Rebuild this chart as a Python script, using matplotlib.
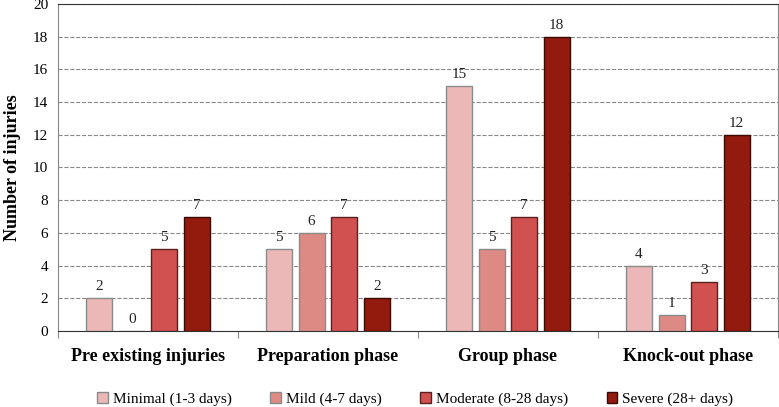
import numpy as np
import matplotlib.pyplot as plt

plt.rcParams['font.family'] = ['Liberation Serif', 'DejaVu Serif']

phases = ["Pre existing injuries", "Preparation phase", "Group phase", "Knock-out phase"]
severity = ["Minimal (1-3 days)", "Mild (4-7 days)", "Moderate (8-28 days)", "Severe (28+ days)"]
minimal = [2, 5, 15, 4]
mild = [0, 6, 5, 1]
moderate = [5, 7, 7, 3]
severe = [7, 2, 18, 12]

colors = ["#ECB8B7", "#DE8A84", "#D05150", "#931B0D"]
edges = ["#8a8a8a", "#8a8a8a", "#5a2020", "#3a0a05"]

fig = plt.figure(figsize=(7.79, 4.07), dpi=100)
ax = fig.add_axes([0.0745, 0.187, 0.924, 0.803])

x = np.arange(len(phases))
step = 0.181
width = 0.145
for i, vals in enumerate([minimal, mild, moderate, severe]):
    pos = x + (i - 1.5) * step
    ax.bar(pos, vals, width, color=colors[i], edgecolor=edges[i],
           linewidth=1.0, label=severity[i], zorder=3)
    for p, v in zip(pos, vals):
        ax.text(p, v + 0.3, str(v), ha='center', va='bottom', fontsize=11, color='#222222')

ax.set_xlim(-0.5, 3.5)
ax.set_ylim(0, 20)
ax.set_yticks(range(0, 21, 2))
ax.tick_params(axis='y', length=0, labelsize=11, pad=7)
ax.set_xticks(np.arange(-0.5, 3.6, 1), minor=False)
ax.set_xticklabels([])
ax.set_xticks(x, minor=True)
ax.set_xticklabels(phases, minor=True, fontsize=13, fontweight='bold')
ax.tick_params(axis='x', which='minor', length=0, pad=12)
ax.tick_params(axis='x', which='major', length=5, color='#888888', direction='out')
ax.yaxis.grid(True, linestyle='--', color='#888888', linewidth=0.8, zorder=0)
ax.set_axisbelow(True)
ax.set_ylabel("Number of injuries", fontsize=13, fontweight='bold', labelpad=9)

ax.spines['left'].set_color('#888888')
ax.spines['bottom'].set_color('#333333')
ax.spines['top'].set_color('#333333')
ax.spines['right'].set_color('#888888')

fig.legend(loc='center', bbox_to_anchor=(0.533, 0.02), ncol=4, frameon=False,
           fontsize=11, handlelength=0.7, handleheight=0.7, handletextpad=0.3,
           columnspacing=2.55)

fig.savefig("out.png", dpi=100)
